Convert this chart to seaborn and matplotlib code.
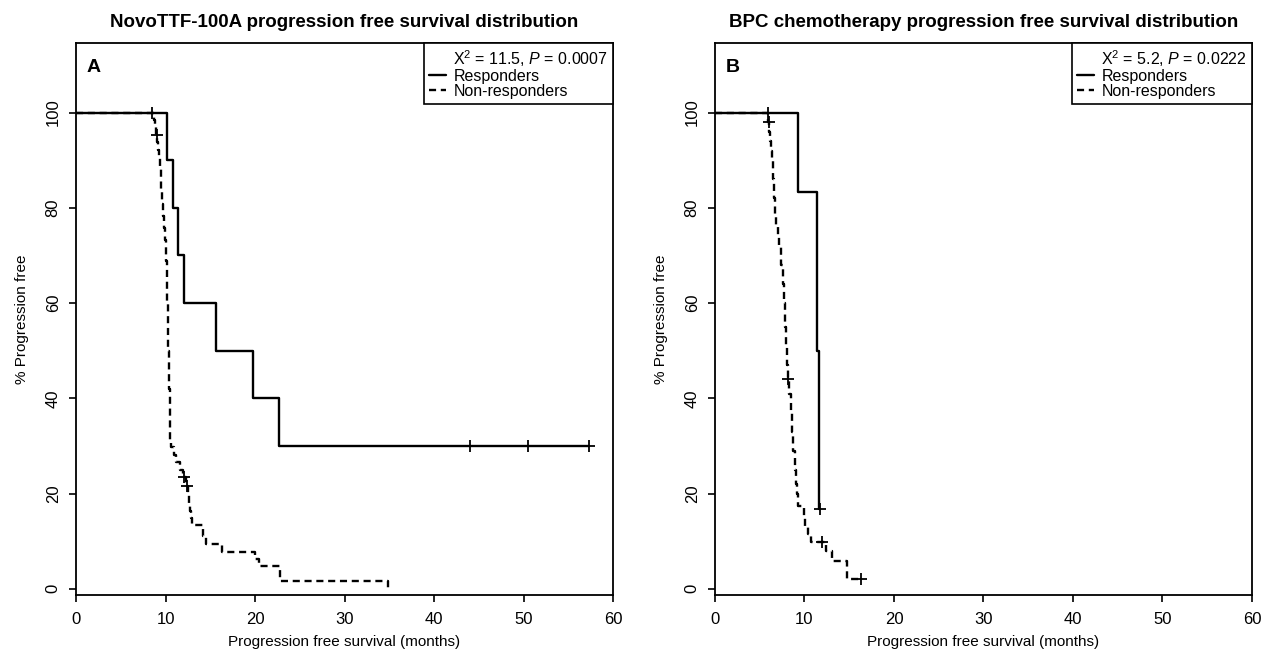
import numpy as np
import pandas as pd
import matplotlib
matplotlib.use("Agg")
import matplotlib.pyplot as plt
from matplotlib.lines import Line2D
import seaborn as sns

# ===== Data (Kaplan-Meier steps, % progression free) =====
# Panel A: NovoTTF-100A
a_resp_time = [0, 10.2, 10.8, 11.4, 12.1, 15.6, 19.8, 22.7, 57.3]
a_resp_surv = [100, 90, 80, 70, 60, 50, 40, 30, 30]
a_resp_cens = [44.0, 50.5, 57.3]

a_non_time = [0, 8.7, 8.8, 8.9, 9.05, 9.15, 9.25, 9.35, 9.45, 9.55,
              9.65, 9.75, 9.85, 9.95, 10.05, 10.15, 10.22, 10.28, 10.33, 10.38,
              10.45, 10.5, 10.6, 10.95, 11.2, 11.6, 12.0, 12.3, 12.5, 12.6,
              12.7, 12.9, 13.0, 14.2, 14.5, 16.3, 20.0, 20.4, 22.8, 34.9]
a_non_surv = [100, 98.4, 96.9, 95.3, 93.8, 92.2, 90.6, 88.2, 85.8, 83.3,
              80.8, 78.3, 75.8, 73.3, 68.8, 64.3, 60.5, 56.5, 50, 42,
              36, 31, 29.7, 28.1, 26.6, 25.0, 23.4, 21.5, 19.6, 18.0,
              16.4, 14.8, 13.3, 11.0, 9.4, 7.8, 6.3, 4.7, 1.6, 0]
a_non_cens = [8.5, 9.0, 12.1, 12.4]

# Panel B: BPC chemotherapy
b_resp_time = [0, 9.25, 11.45, 11.65, 11.75]
b_resp_surv = [100, 83.3, 50, 16.7, 16.7]
b_resp_cens = [11.75]

b_non_time = [0, 5.95, 6.05, 6.15, 6.25, 6.35, 6.5, 6.65, 6.75, 6.85,
              7.0, 7.2, 7.4, 7.55, 7.7, 7.85, 7.95, 8.05, 8.15, 8.3,
              8.45, 8.6, 8.75, 8.9, 9.05, 9.15, 9.3, 9.9, 10.1, 10.4,
              10.7, 12.4, 13.1, 14.8, 16.3]
b_non_surv = [100, 98, 96, 94, 92, 90, 86, 82, 78, 76,
              74, 72, 68, 64, 60, 55, 51, 47, 44, 41,
              37, 33, 29, 25, 22, 20, 17.4, 15.2, 13, 11.5,
              9.8, 8.0, 5.9, 2.0, 2.0]
b_non_cens = [5.9, 6.0, 8.2, 12.0, 16.3]

titles = ["NovoTTF-100A progression free survival distribution",
          "BPC chemotherapy progression free survival distribution"]
panel_tags = ["A", "B"]
stats = [r"X$^{2}$ = 11.5, $P$ = 0.0007", r"X$^{2}$ = 5.2, $P$ = 0.0222"]
groups = ["Responders", "Non-responders"]


def km_frame(time, surv, group):
    return pd.DataFrame({"time": time, "surv": surv, "group": group})


def at_time(time, surv, t):
    idx = np.searchsorted(np.asarray(time), t, side="right") - 1
    return np.asarray(surv)[idx]


panels = [
    [(a_resp_time, a_resp_surv, a_resp_cens), (a_non_time, a_non_surv, a_non_cens)],
    [(b_resp_time, b_resp_surv, b_resp_cens), (b_non_time, b_non_surv, b_non_cens)],
]

# ===== Style =====
sns.set_style("ticks")
plt.rcParams["font.family"] = ["Liberation Sans", "DejaVu Sans"]
plt.rcParams["mathtext.fontset"] = "custom"
plt.rcParams["mathtext.rm"] = "Liberation Sans"
plt.rcParams["mathtext.it"] = "Liberation Sans:italic"
plt.rcParams["mathtext.bf"] = "Liberation Sans:bold"
for key in ["text.color", "axes.labelcolor", "xtick.color", "ytick.color",
            "axes.edgecolor"]:
    plt.rcParams[key] = "black"

fig = plt.figure(figsize=(12.65, 6.57), dpi=100)
ax_pos = [[0.0601, 0.0944, 0.4245, 0.8394], [0.5652, 0.0944, 0.4245, 0.8394]]
dash_map = {"Responders": "", "Non-responders": (3, 2)}

for i, curves in enumerate(panels):
    ax = fig.add_axes(ax_pos[i])
    df = pd.concat([km_frame(c[0], c[1], g) for c, g in zip(curves, groups)],
                   ignore_index=True)
    sns.lineplot(data=df, x="time", y="surv", style="group", dashes=dash_map,
                 color="black", drawstyle="steps-post", estimator=None,
                 sort=False, linewidth=1.7, legend=False, ax=ax)
    for time, surv, cens in curves:
        cy = [at_time(time, surv, t) for t in cens]
        sns.scatterplot(x=cens, y=cy, marker="+", s=75, color="black",
                        linewidth=1.3, legend=False, ax=ax, zorder=3)

    ax.set_xlim(0, 60)
    ax.set_ylim(-1.3, 114.5)
    ax.set_xticks(range(0, 61, 10))
    ax.set_yticks(range(0, 101, 20))
    ax.tick_params(axis="both", labelsize=12, length=5, width=1.2, pad=7)
    ax.tick_params(axis="y", labelrotation=90, pad=6)
    for lab in ax.get_yticklabels():
        lab.set_va("center")
    for sp in ax.spines.values():
        sp.set_linewidth(1.3)
    ax.set_xlabel("Progression free survival (months)", fontsize=11, labelpad=6)
    ax.set_ylabel("% Progression free", fontsize=11, labelpad=12)
    ax.set_title(titles[i], fontsize=13.5, fontweight="bold", pad=12)
    ax.text(0.02, 0.972, panel_tags[i], transform=ax.transAxes, ha="left",
            va="top", fontsize=14, fontweight="bold")

    handles = [Line2D([], [], color="none"),
               Line2D([], [], color="black", lw=1.7),
               Line2D([], [], color="black", lw=1.7, dashes=(3, 2))]
    leg = ax.legend(handles, [stats[i]] + groups, loc="upper right",
                    borderaxespad=0, fontsize=11.5, handlelength=1.1,
                    handletextpad=0.45, labelspacing=0.0, borderpad=0.3,
                    fancybox=False, framealpha=1)
    leg.get_frame().set_edgecolor("black")
    leg.get_frame().set_linewidth(1.2)

fig.savefig("out.png", dpi=100)
